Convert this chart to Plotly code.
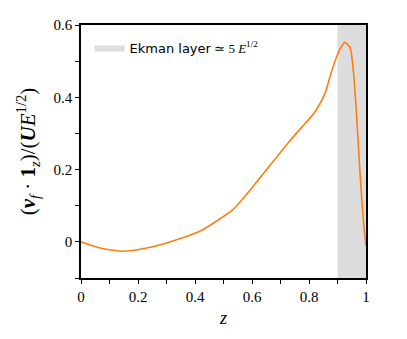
import plotly.graph_objects as go

# vertical profile
z = [0.0, 0.067, 0.148, 0.23, 0.30, 0.359, 0.418, 0.453, 0.488, 0.534, 0.593,
     0.646, 0.733, 0.821, 0.856, 0.874, 0.897, 0.909, 0.926, 0.944, 0.956,
     0.967, 0.979, 0.991, 1.0]
vz = [0.0, -0.017, -0.026, -0.017, -0.003, 0.012, 0.030, 0.046, 0.064, 0.090,
      0.143, 0.195, 0.28, 0.36, 0.41, 0.458, 0.512, 0.534, 0.552, 0.538, 0.47,
      0.35, 0.19, 0.056, -0.01]

# Ekman layer band
band_x = [0.9, 1.0]
y_range = [-0.1, 0.6]

serif = "Liberation Serif"

fig = go.Figure()
fig.add_trace(
    go.Scatter(
        x=[band_x[0], band_x[1], band_x[1], band_x[0], band_x[0]],
        y=[y_range[0], y_range[0], y_range[1], y_range[1], y_range[0]],
        fill="toself",
        fillcolor="#dddddd",
        line=dict(width=0, color="#dddddd"),
        mode="lines",
        name="<span style='font-family:DejaVu Sans'>Ekman layer</span> ≃ 5 <i>E</i><sup>1/2</sup>",
        hoverinfo="skip",
    )
)
fig.add_trace(
    go.Scatter(
        x=z,
        y=vz,
        mode="lines",
        line=dict(color="#ff7f0e", width=1.6, shape="spline", smoothing=0.6),
        showlegend=False,
    )
)

axis_common = dict(
    showline=True,
    linecolor="black",
    linewidth=1.5,
    mirror=True,
    showgrid=False,
    zeroline=False,
    ticks="outside",
    ticklen=4,
    tickcolor="black",
    tickfont=dict(family=serif, size=15, color="black"),
    minor=dict(dtick=0.1, ticks="outside", ticklen=4, tickcolor="black"),
)
fig.update_xaxes(range=[0, 1], tick0=0, dtick=0.2,
                 title=dict(text="<i>z</i>", font=dict(family=serif, size=18, color="black"),
                            standoff=8),
                 **axis_common)
fig.update_yaxes(range=y_range, tick0=0, dtick=0.2,
                 title=dict(
                     text="(<b><i>v</i></b><sub><i>f</i></sub> · <b>1</b><sub><i>z</i></sub>)"
                          "/(<b><i>U</i></b><i>E</i><sup>1/2</sup>)",
                     font=dict(family=serif, size=21, color="black"), standoff=12),
                 **axis_common)
fig.update_layout(
    width=407,
    height=339,
    margin=dict(l=73, r=49, t=9, b=69),
    plot_bgcolor="white",
    paper_bgcolor="white",
    font=dict(family=serif, color="black"),
    legend=dict(x=0.03, y=0.97, xanchor="left", yanchor="top",
                bgcolor="rgba(0,0,0,0)",
                font=dict(family=serif, size=13, color="black")),
)
fig.write_html("out.html")
